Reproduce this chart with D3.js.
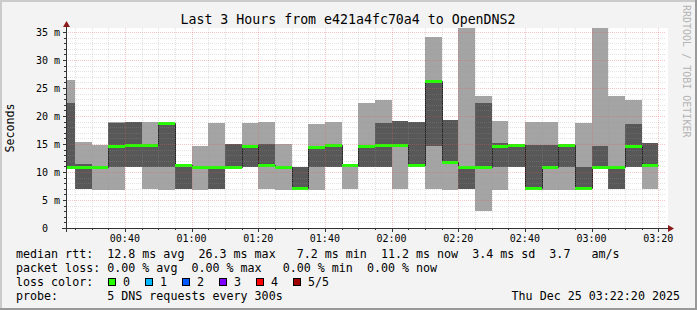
<!DOCTYPE html>
<html>
<head>
<meta charset="utf-8">
<script src="https://cdn.jsdelivr.net/npm/d3@7"></script>
<style>
  body { margin: 0; background: #f3f3f3; }
  svg { display: block; }
  text { font-family: "DejaVu Sans Mono", monospace; fill: #000; white-space: pre; }
</style>
</head>
<body>
<svg width="697" height="310"></svg>
<script>
// 5 minute bins, labelled by their end time (Dec 25 2025)
const binEnds = ["00:25","00:30","00:35","00:40","00:45","00:50","00:55","01:00","01:05","01:10","01:15","01:20",
                 "01:25","01:30","01:35","01:40","01:45","01:50","01:55","02:00","02:05","02:10","02:15","02:20",
                 "02:25","02:30","02:35","02:40","02:45","02:50","02:55","03:00","03:05","03:10","03:15","03:20"];

// sorted ping values per bin, ms
const pingMin = [10.9,7.0,6.8,6.8,10.8,7.0,6.8,7.0,6.8,7.0,10.9,10.9,7.0,6.8,7.2,6.8,10.9,7.0,
                 10.8,10.9,7.0,11.2,7.0,6.8,7.0,3.1,6.8,10.8,7.2,6.8,6.8,7.2,10.8,7.0,10.8,7.0];
const ping2   = [10.9,7.0,10.9,10.9,10.8,10.9,10.9,7.0,10.9,7.0,10.9,10.9,10.9,10.9,7.2,10.8,10.9,11.2,
                 10.8,10.9,14.9,11.2,14.7,11.5,7.0,10.9,10.9,10.8,7.2,10.8,10.9,7.2,10.8,7.0,10.8,11.1];
const median  = [10.9,10.9,10.9,14.7,14.9,14.9,18.8,11.3,10.9,10.9,10.9,14.7,11.2,10.9,7.2,14.5,14.9,11.2,
                 14.7,14.9,14.9,11.2,26.3,11.7,10.9,10.9,14.7,14.9,7.2,10.8,14.8,7.2,10.8,10.9,14.7,11.2];
const ping4   = [22.3,11.4,10.9,18.7,18.9,14.9,18.8,11.3,10.9,10.9,15.0,14.7,15.0,10.9,10.9,14.6,14.9,11.2,
                 14.7,18.8,19.1,18.9,26.3,19.3,10.9,22.3,15.1,14.9,14.9,14.9,14.8,10.9,14.7,10.9,18.6,15.1];
const pingMax = [26.4,15.4,14.8,18.9,18.9,18.9,18.8,11.3,14.7,18.8,15.0,18.8,18.9,15.0,10.9,18.6,18.9,11.2,
                 22.3,22.9,19.1,18.9,34.1,19.3,36.0,23.6,19.1,14.9,18.9,18.9,14.8,18.8,36.0,23.6,22.9,15.1];
const lossCount = [0,0,0,0,0,0,0,0,0,0,0,0,0,0,0,0,0,0,0,0,0,0,0,0,0,0,0,0,0,0,0,0,0,0,0,0];

const lossColors = ["#26ff00","#00b8ff","#0059ff","#7e00ff","#ff0000","#a10000"];
const lossLabels = ["0","1","2","3","4","5/5"];
const yTicks = [0,5,10,15,20,25,30,35];
const yTickLabels = ["0","5 m","10 m","15 m","20 m","25 m","30 m","35 m"];

const title = "Last 3 Hours from e421a4fc70a4 to OpenDNS2";
const rttLine = "median rtt:  12.8 ms avg  26.3 ms max   7.2 ms min  11.2 ms now  3.4 ms sd  3.7   am/s";
const lossLine = "packet loss: 0.00 % avg  0.00 % max   0.00 % min  0.00 % now";
const probeLine = "probe:       5 DNS requests every 300s";
const stamp = "Thu Dec 25 03:22:20 2025";

const parse = d3.utcParse("%Y-%m-%d %H:%M:%S");
const t0 = parse("2025-12-25 00:22:20"), t1 = parse("2025-12-25 03:22:20");
const ends = binEnds.map(s => parse("2025-12-25 " + s + ":00"));
const starts = ends.map(d => d3.utcMinute.offset(d, -5));

const svg = d3.select("svg");
const W = 697, H = 310;

// background + 3d frame
svg.append("rect").attr("width", W).attr("height", H).attr("fill", "#f3f3f3");
svg.append("path").attr("d", `M0,0H${W}V2H2V${H}H0Z`).attr("fill", "#cbcbcb");
svg.append("path").attr("d", `M${W},0V${H}H0V${H-2}H${W-2}V0Z`).attr("fill", "#999999");

const x = d3.scaleUtc().domain([t0, t1]).range([66, 666]);
const y = d3.scaleLinear().domain([0, 35.7]).range([228, 28]);

svg.append("rect").attr("x", 66).attr("y", 28).attr("width", 602).attr("height", 200).attr("fill", "#fff");
svg.append("clipPath").attr("id", "clip").append("rect")
  .attr("x", 66).attr("y", 28).attr("width", 600).attr("height", 200);

const plot = svg.append("g").attr("clip-path", "url(#clip)");
const idx = d3.range(binEnds.length);
const px = v => Math.round(v);

// smoke: outer band (min..max) and inner band (p2..p4)
plot.selectAll("rect.outer").data(idx).join("rect").attr("class", "outer")
  .attr("x", i => px(x(starts[i]))).attr("width", i => px(x(ends[i])) - px(x(starts[i])))
  .attr("y", i => px(y(pingMax[i]))).attr("height", i => px(y(pingMin[i])) - px(y(pingMax[i])))
  .attr("fill", "#a4a4a4");
plot.selectAll("rect.inner").data(idx).join("rect").attr("class", "inner")
  .attr("x", i => px(x(starts[i]))).attr("width", i => px(x(ends[i])) - px(x(starts[i])))
  .attr("y", i => px(y(ping4[i]))).attr("height", i => px(y(ping2[i])) - px(y(ping4[i])))
  .attr("fill", "#585858");

// median step line
const steps = [];
idx.forEach(i => { steps.push([starts[i], median[i]]); steps.push([ends[i], median[i]]); });
plot.append("path")
  .attr("d", d3.line().x(d => px(x(d[0])) + 0.5).y(d => px(y(d[1])) + 0.5)(steps))
  .attr("fill", "none").attr("stroke", "#202020").attr("stroke-width", 1);

// grid on top of the smoke
const minorCol = "rgba(150,150,150,0.28)", majorCol = "rgba(230,90,90,0.35)";
const grid = svg.append("g").attr("shape-rendering", "crispEdges").attr("stroke-dasharray", "1,1");
d3.range(1, 36).forEach(v => {
  grid.append("line").attr("x1", 66).attr("x2", 666)
    .attr("y1", px(y(v)) + 0.5).attr("y2", px(y(v)) + 0.5)
    .attr("stroke", v % 5 === 0 ? majorCol : minorCol);
});
x.ticks(d3.utcMinute.every(5)).forEach(t => {
  if (+t === +t0) return;
  const major = t.getUTCMinutes() % 20 === 0;
  grid.append("line").attr("x1", px(x(t)) + 0.5).attr("x2", px(x(t)) + 0.5)
    .attr("y1", 28).attr("y2", 228)
    .attr("stroke", major ? majorCol : minorCol);
});

// median, coloured by loss
plot.selectAll("rect.med").data(idx).join("rect").attr("class", "med")
  .attr("x", i => px(x(starts[i]))).attr("width", i => px(x(ends[i])) - px(x(starts[i])))
  .attr("y", i => px(y(median[i])) - 1).attr("height", 3)
  .attr("fill", i => lossColors[lossCount[i]]);

// axes
const axisCol = "#333";
svg.append("line").attr("x1", 62).attr("x2", 669).attr("y1", 228.5).attr("y2", 228.5).attr("stroke", axisCol);
svg.append("line").attr("x1", 66.5).attr("x2", 66.5).attr("y1", 232).attr("y2", 26).attr("stroke", axisCol);
svg.append("path").attr("d", "M668,225V232L674,228.5Z").attr("fill", "#8b1a1a");
svg.append("path").attr("d", "M63,27H70L66.5,21Z").attr("fill", "#8b1a1a");

const ticks = svg.append("g").attr("stroke", axisCol).attr("shape-rendering", "crispEdges");
x.ticks(d3.utcMinute.every(5)).forEach(t => {
  const major = t.getUTCMinutes() % 20 === 0;
  ticks.append("line").attr("x1", px(x(t)) + 0.5).attr("x2", px(x(t)) + 0.5)
    .attr("y1", 229).attr("y2", major ? 232 : 230);
});
d3.range(0, 36).forEach(v => {
  ticks.append("line").attr("x1", v % 5 === 0 ? 63 : 64).attr("x2", 66)
    .attr("y1", px(y(v)) + 0.5).attr("y2", px(y(v)) + 0.5);
});

// tick labels
svg.append("g").selectAll("text").data(x.ticks(d3.utcMinute.every(20))).join("text")
  .attr("x", d => x(d)).attr("y", 242).attr("text-anchor", "middle")
  .attr("font-size", "10px").text(d3.utcFormat("%H:%M"));
svg.append("g").selectAll("text").data(yTicks).join("text")
  .attr("x", (d, i) => yTickLabels[i].length > 1 ? 60 : 48).attr("y", d => y(d) + 4)
  .attr("text-anchor", "end").attr("font-size", "10px")
  .text((d, i) => yTickLabels[i]);

// titles
svg.append("text").attr("x", 348).attr("y", 24).attr("text-anchor", "middle")
  .attr("font-size", "13.25px").text(title);
svg.append("text").attr("transform", "translate(14,128) rotate(-90)").attr("text-anchor", "middle")
  .attr("font-size", "11.67px").text("Seconds");
svg.append("text").attr("transform", "translate(683,5) rotate(90)")
  .attr("font-size", "10px").style("fill", "#b4b4b4").text("RRDTOOL / TOBI OETIKER");

// legend
const leg = svg.append("g").attr("font-size", "11.67px");
leg.append("text").attr("x", 16).attr("y", 258).text(rttLine);
leg.append("text").attr("x", 16).attr("y", 272).text(lossLine);
leg.append("text").attr("x", 16).attr("y", 286).text("loss color:");
leg.append("text").attr("x", 16).attr("y", 300).text(probeLine);
leg.append("text").attr("x", 680).attr("y", 300).attr("text-anchor", "end").text(stamp);

const box = leg.selectAll("g.box").data(lossColors).join("g").attr("class", "box")
  .attr("transform", (d, i) => `translate(${108 + i * 37},278)`);
box.append("rect").attr("x", 0.5).attr("y", 0.5).attr("width", 7).attr("height", 7)
  .attr("fill", d => d).attr("stroke", "#000");
box.append("text").attr("x", 15).attr("y", 8).text((d, i) => lossLabels[i]);
</script>
</body>
</html>
